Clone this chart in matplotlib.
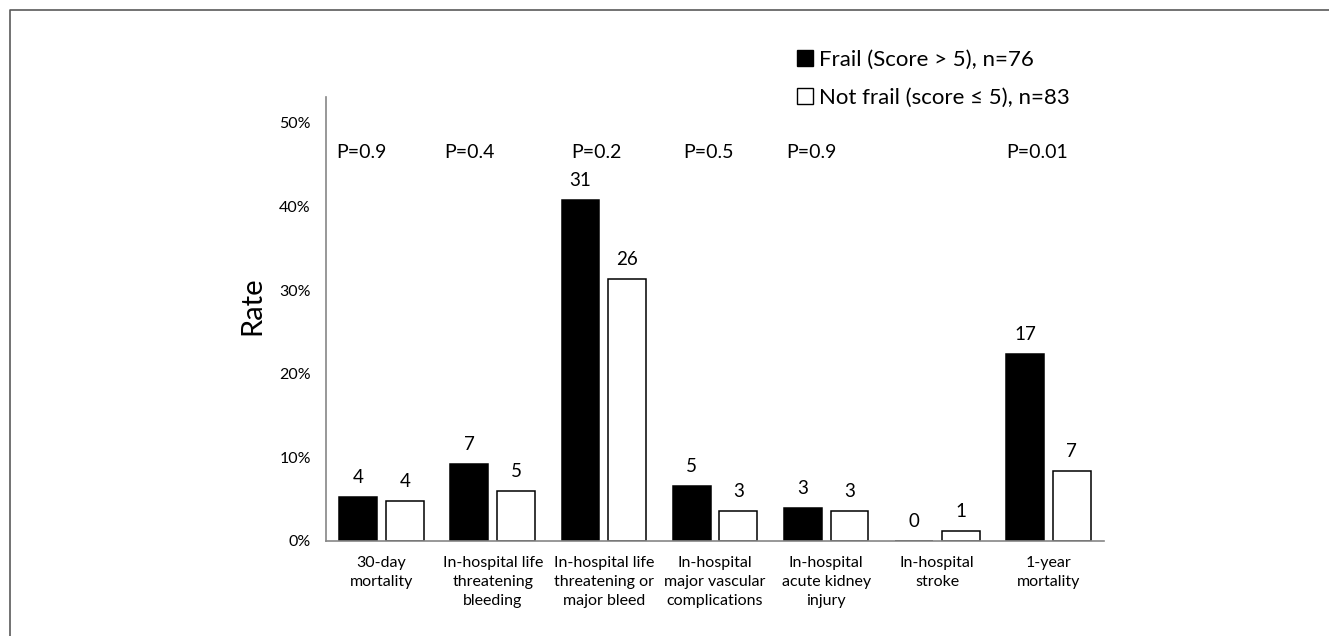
import matplotlib
import matplotlib.pyplot as plt
import numpy as np
from matplotlib.patches import Patch
from matplotlib.lines import Line2D

matplotlib.use('agg')

plt.rcParams['font.family'] = ['Lato', 'DejaVu Sans']

categories = ["30-day\nmortality", "In-hospital life\nthreatening\nbleeding",
              "In-hospital life\nthreatening or\nmajor bleed", "In-hospital\nmajor vascular\ncomplications",
              "In-hospital\nacute kidney\ninjury", "In-hospital\nstroke", "1-year\nmortality"]
frail_counts = [4, 7, 31, 5, 3, 0, 17]
notfrail_counts = [4, 5, 26, 3, 3, 1, 7]
# rates (fraction)
frail_rate = [0.053, 0.092, 0.408, 0.066, 0.039, 0.0, 0.224]
notfrail_rate = [0.048, 0.060, 0.313, 0.036, 0.036, 0.012, 0.084]
p_labels = ["P=0.9", "P=0.4", "P=0.2", "P=0.5", "P=0.9", "", "P=0.01"]
legend_labels = ["Frail (Score > 5), n=76", "Not frail (score \u2264 5), n=83"]

# horizontal offsets of the P text boxes from each category centre
p_offsets = [-0.185, -0.205, -0.07, -0.055, -0.13, 0.0, -0.105]

W = 1329 / 100
H = 636 / 100
fig = plt.figure(figsize=(W, H), dpi=100)
ax = fig.add_axes([326 / 1329, 1 - 541 / 636, 778 / 1329, 444 / 636])

x = np.arange(len(categories))
bw = 0.34
gap = 0.08
ax.bar(x - (bw + gap) / 2, frail_rate, bw, color='black', edgecolor='black', linewidth=1.1)
ax.bar(x + (bw + gap) / 2, notfrail_rate, bw, color='white', edgecolor='black', linewidth=1.1)

for i in range(len(categories)):
    ax.annotate(str(frail_counts[i]), (x[i] - (bw + gap) / 2, frail_rate[i]), xytext=(0, 8),
                textcoords='offset points', ha='center', va='bottom', fontsize=13.5)
    ax.annotate(str(notfrail_counts[i]), (x[i] + (bw + gap) / 2, notfrail_rate[i]), xytext=(0, 8),
                textcoords='offset points', ha='center', va='bottom', fontsize=13.5)
    if p_labels[i]:
        ax.text(x[i] + p_offsets[i], 0.465, p_labels[i], ha='center', va='center', fontsize=14)

ax.set_xlim(-0.5, len(categories) - 0.5)
ax.set_ylim(0, 0.531)
ax.set_yticks([0, 0.1, 0.2, 0.3, 0.4, 0.5], ["0%", "10%", "20%", "30%", "40%", "50%"])
ax.set_xticks(x, categories)
for lbl in ax.get_xticklabels():
    lbl.set_linespacing(1.45)
ax.tick_params(axis='y', length=0, pad=11, labelsize=11.5)
ax.tick_params(axis='x', length=0, pad=11, labelsize=11.5)
ax.set_ylabel("Rate", fontsize=21)
ax.yaxis.set_label_coords(-0.078, 0.529)

for s in ['top', 'right']:
    ax.spines[s].set_visible(False)
for s in ['left', 'bottom']:
    ax.spines[s].set_color('#868686')
    ax.spines[s].set_linewidth(1.2)

handles = [Patch(facecolor='black', edgecolor='black'),
           Patch(facecolor='white', edgecolor='black', linewidth=1.0)]
fig.legend(handles, legend_labels, loc='upper left', bbox_to_anchor=(777 / 1329, 1 - 30 / 636),
           frameon=False, fontsize=16, handlelength=0.7, handleheight=0.7,
           handletextpad=0.3, labelspacing=0.8)

# outer frame (top and left only)
fig.add_artist(Line2D([10 / 1329, 10 / 1329, 1], [0, 1 - 10 / 636, 1 - 10 / 636],
                      transform=fig.transFigure, color='#5a5a5a', linewidth=1.2))

fig.savefig("out.png", dpi=100)
